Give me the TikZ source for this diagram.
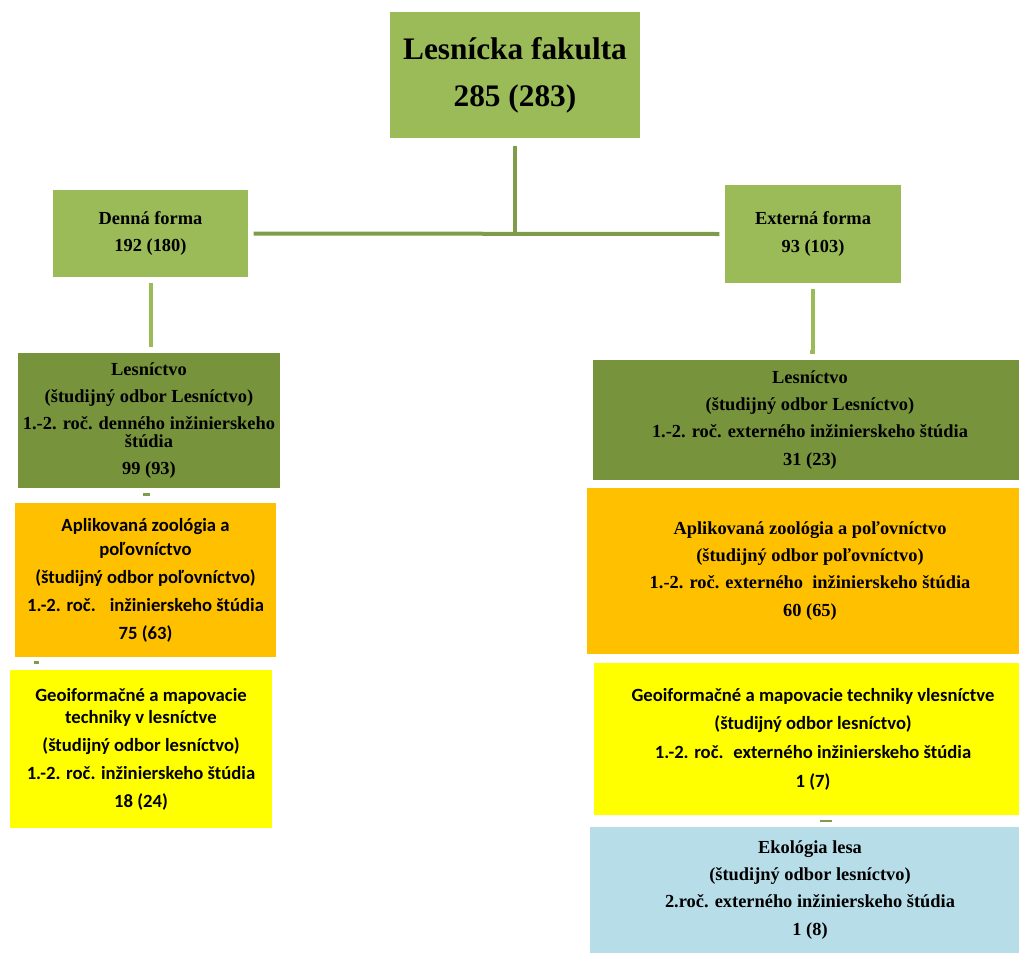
\documentclass[tikz,border=0pt]{standalone}
\usepackage{fontspec}
\setmainfont{Liberation Serif}
\newfontfamily\calib{Carlito}
\definecolor{lgreen}{HTML}{9BBB59}
\definecolor{dgreen}{HTML}{77933C}
\definecolor{lineg}{HTML}{7F9C4A}
\definecolor{orng}{HTML}{FFC000}
\definecolor{yell}{HTML}{FFFF00}
\definecolor{lblue}{HTML}{B7DDE8}
\tikzset{
  box/.style={rectangle, inner sep=0pt, align=center, text=black},
  sz/.style 2 args={minimum width=#1*0.75pt, minimum height=#2*0.75pt},
  ser/.style={font=\bfseries\fontsize{13.8}{20.3}\selectfont},
  sans/.style={font=\calib\bfseries\fontsize{14}{21}\selectfont},
  conn/.style={draw=lineg, line width=3pt},
  conn2/.style={draw=lgreen, line width=3pt},
  stub/.style={draw=lineg, line width=2pt},
}
\begin{document}
\begin{tikzpicture}[x=0.75pt,y=-0.75pt]
\useasboundingbox (0,0) rectangle (1019,953);
% top level
\node[box, sz={250}{126}, fill=lgreen, font=\bfseries\fontsize{23.5}{35}\selectfont] (top) at (515,75) {Lesnícka fakulta\\285 (283)};
\node[box, sz={195}{87}, fill=lgreen, ser] (den) at (150.5,233.5) {Denná forma\\192 (180)};
\node[box, sz={176}{98}, fill=lgreen, ser] (ext) at (813,234) {Externá forma\\93 (103)};
% left column
\node[box, sz={262}{135}, fill=dgreen, ser] (lesL) at (149,420.5) {Lesníctvo\\(študijný odbor Lesníctvo)\\1.-2. roč. denného inžinierskeho\\[-6.5pt]štúdia\\99 (93)};
\node[box, sz={261}{154}, fill=orng, sans] (zooL) at (145.5,580) {Aplikovaná zoológia a\\[-3pt]poľovníctvo\\ (študijný odbor poľovníctvo)\\1.-2. roč. \ \ inžinierskeho štúdia\\75 (63)};
\node[box, sz={262}{158}, fill=yell, sans] (geoL) at (141,749) {Geoiformačné a mapovacie\\[-4.5pt]techniky v lesníctve\\(študijný odbor lesníctvo)\\1.-2. roč. inžinierskeho štúdia\\18 (24)};
% right column (boxes run past the right edge, as in the reference)
\node[box, sz={434}{120}, fill=dgreen, ser] (lesR) at (810,420) {Lesníctvo\\(študijný odbor Lesníctvo)\\1.-2. roč. externého inžinierskeho štúdia\\31 (23)};
\node[box, sz={446}{166}, fill=orng, ser] (zooR) at (810,571) {Aplikovaná zoológia a poľovníctvo\\(študijný odbor poľovníctvo)\\1.-2. roč. externého \ inžinierskeho štúdia\\60 (65)};
\node[box, sz={438}{152}, fill=yell, sans] (geoR) at (813,739) {Geoiformačné a mapovacie techniky vlesníctve\\[0.5pt](študijný odbor lesníctvo)\\[0.5pt]1.-2. roč. \ externého inžinierskeho štúdia\\[0.5pt]1 (7)};
\node[box, sz={440}{126}, fill=lblue, ser] (ekoR) at (810,890) {Ekológia lesa\\(študijný odbor lesníctvo)\\2.roč. externého inžinierskeho štúdia\\1 (8)};
% connectors
\coordinate (j) at (top.south |- den.east);
\draw[conn] ([yshift=-6pt]top.south) -- (j);
\draw[conn] ([xshift=4pt]den.east) -- ([xshift=-4pt]ext.west);
\draw[conn2] ([yshift=-4.5pt]den.south) -- ([yshift=6pt]den.south |- lesL.north) -- ++(-2,0);
\draw[conn2] ([yshift=-4pt]ext.south) -- ([yshift=5.5pt]ext.south |- lesR.north) -- ++(-3,0);
% small visible stubs
\coordinate (s1) at (143,494.5);
\coordinate (s2) at (150,494.5);
\draw[stub] (s1) -- (s2);
\coordinate (s3) at (34,662.5);
\coordinate (s4) at (39,662.5);
\draw[stub] (s3) -- (s4);
\coordinate (s5) at (820,821);
\coordinate (s6) at (832,821);
\draw[stub] (s5) -- (s6);
\end{tikzpicture}
\end{document}
